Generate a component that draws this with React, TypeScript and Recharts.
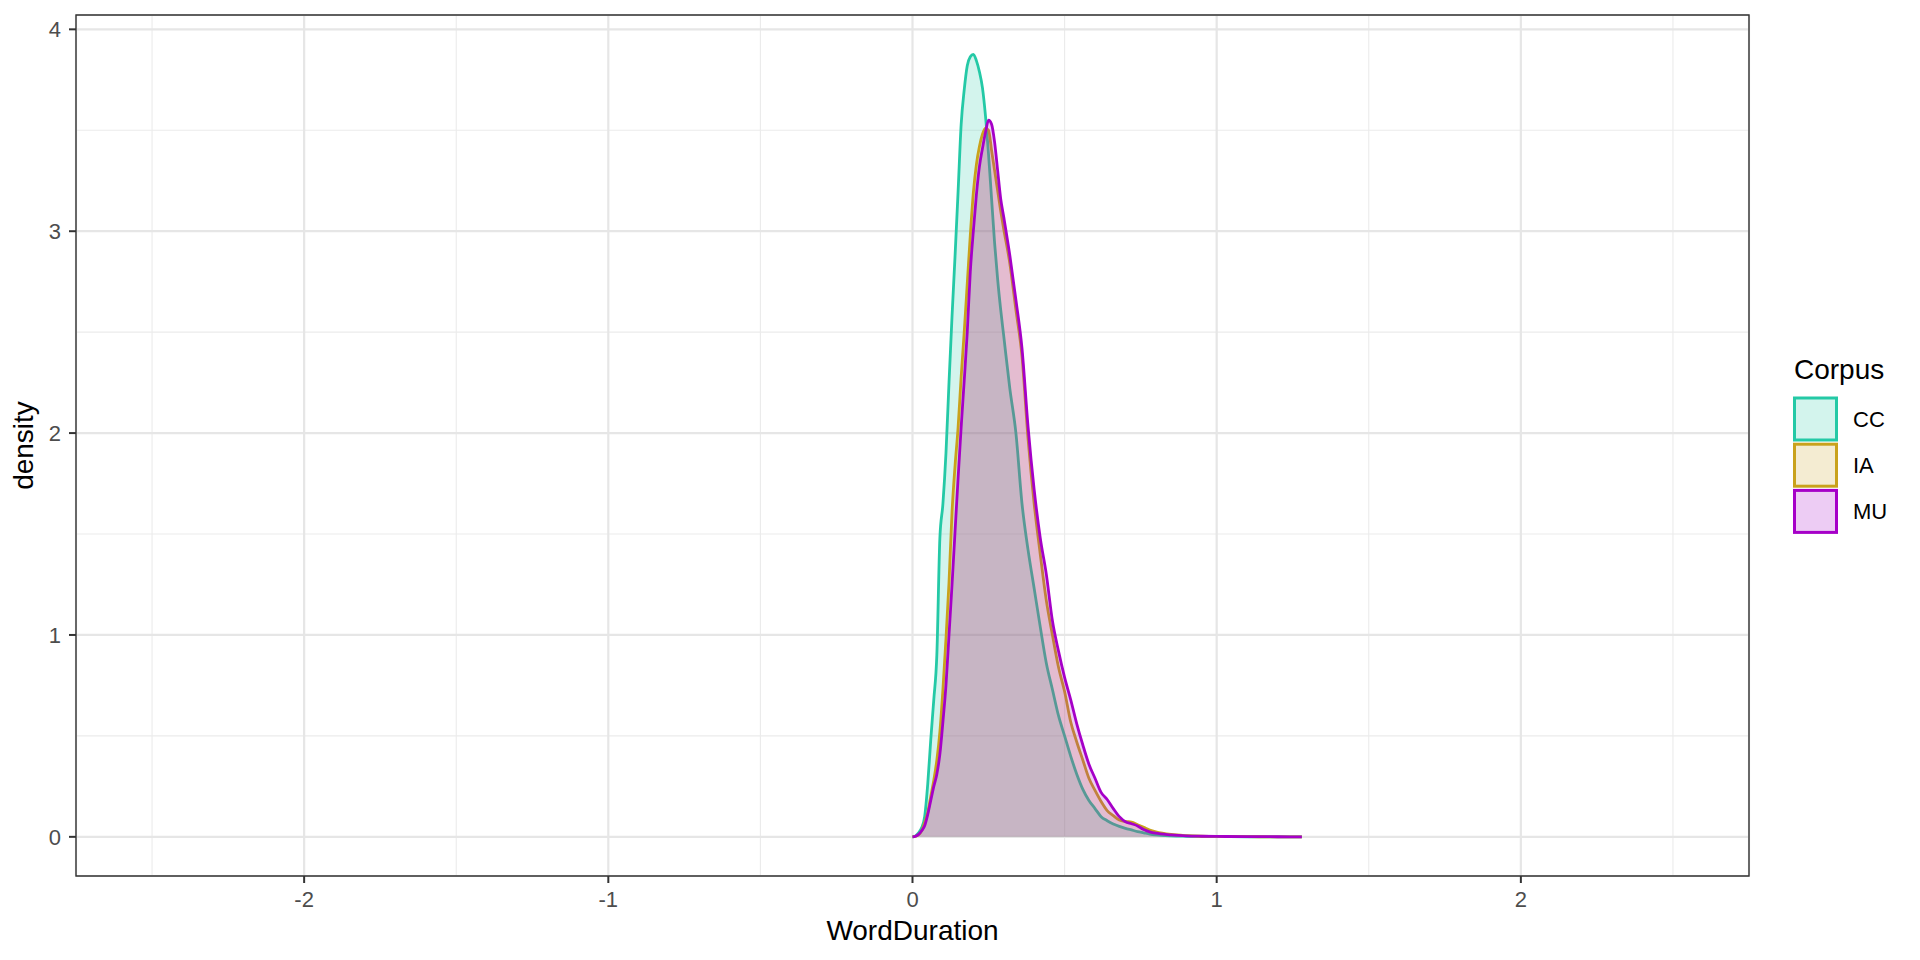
import React from 'react';
import {
  ComposedChart,
  Area,
  XAxis,
  YAxis,
  CartesianGrid,
  ReferenceArea,
  Legend,
} from 'recharts';

// ---- data ----
const wordDuration = [
  0, 0.01, 0.02, 0.03, 0.04, 0.05, 0.06, 0.07, 0.08, 0.09, 0.1, 0.11, 0.12, 0.13, 0.14, 0.15, 0.16,
  0.17, 0.18, 0.19, 0.2, 0.21, 0.22, 0.23, 0.24, 0.25, 0.26, 0.27, 0.28, 0.29, 0.3, 0.32, 0.34, 0.36,
  0.38, 0.4, 0.42, 0.44, 0.46, 0.48, 0.5, 0.52, 0.54, 0.56, 0.58, 0.6, 0.62, 0.64, 0.66, 0.68, 0.7,
  0.72, 0.74, 0.76, 0.78, 0.8, 0.85, 0.9, 0.95, 1.0, 1.1, 1.2, 1.28,
];

const densityCC = [
  0, 0.005, 0.02, 0.045, 0.1, 0.26, 0.48, 0.68, 0.9, 1.48, 1.65, 1.9, 2.25, 2.58, 2.88, 3.2, 3.53,
  3.7, 3.82, 3.864, 3.876, 3.845, 3.79, 3.71, 3.57, 3.38, 3.16, 2.94, 2.76, 2.61, 2.48, 2.22, 2.0, 1.65,
  1.42, 1.23, 1.04, 0.86, 0.73, 0.6, 0.5, 0.4, 0.31, 0.235, 0.18, 0.14, 0.1, 0.08, 0.064, 0.052, 0.042,
  0.034, 0.026, 0.02, 0.014, 0.01, 0.005, 0.003, 0.002, 0.001, 0.0005, 0, 0,
];

const densityIA = [
  0, 0.003, 0.01, 0.03, 0.07, 0.12, 0.2, 0.28, 0.38, 0.52, 0.73, 0.98, 1.26, 1.61, 1.84, 2.03, 2.28,
  2.5, 2.74, 2.98, 3.19, 3.33, 3.42, 3.48, 3.51, 3.5, 3.4, 3.3, 3.2, 3.1, 3.01, 2.84, 2.61, 2.38,
  1.97, 1.65, 1.4, 1.17, 1.0, 0.84, 0.72, 0.57, 0.47, 0.38, 0.29, 0.23, 0.175, 0.13, 0.105, 0.083, 0.076,
  0.073, 0.06, 0.047, 0.034, 0.025, 0.012, 0.006, 0.003, 0.002, 0.001, 0, 0,
];

const densityMU = [
  0, 0.003, 0.012, 0.03, 0.055, 0.11, 0.18, 0.25, 0.31, 0.41, 0.57, 0.75, 1.0, 1.25, 1.516, 1.78, 2.03,
  2.26, 2.5, 2.8, 3.0, 3.18, 3.32, 3.41, 3.49, 3.55, 3.53, 3.44, 3.3, 3.16, 3.07, 2.88, 2.66, 2.42,
  2.03, 1.72, 1.48, 1.3, 1.07, 0.92, 0.79, 0.68, 0.56, 0.455, 0.36, 0.29, 0.22, 0.185, 0.14, 0.1, 0.075,
  0.065, 0.054, 0.036, 0.025, 0.018, 0.01, 0.005, 0.003, 0.002, 0.001, 0.0005, 0,
];

const corpusNames = ['CC', 'IA', 'MU'];
const corpusColors = ['#24C9A6', '#C9A21C', '#A600C8'];

const xTicks = [-2, -1, 0, 1, 2];
const xMinorTicks = [-2.5, -1.5, -0.5, 0.5, 1.5, 2.5];
const yTicks = [0, 1, 2, 3, 4];
const yMinorTicks = [0.5, 1.5, 2.5, 3.5];
const xDomain: [number, number] = [-2.75, 2.75];
const yDomain: [number, number] = [-0.194, 4.071];

const data = wordDuration.map((x, i) => ({
  x,
  CC: densityCC[i],
  IA: densityIA[i],
  MU: densityMU[i],
}));

const FONT = '"Liberation Sans", Arial, Helvetica, sans-serif';

const LegendBox = () => (
  <svg width={140} height={200} style={{ display: 'block', fontFamily: FONT }}>
    <text x={15} y={30} fontSize={28} fill="#000000">
      Corpus
    </text>
    {corpusNames.map((name, i) => (
      <g key={name}>
        <rect
          x={15.5}
          y={49 + i * 46.2}
          width={42}
          height={42}
          fill={corpusColors[i]}
          fillOpacity={0.2}
          stroke={corpusColors[i]}
          strokeWidth={3}
        />
        <text x={74} y={70 + i * 46.2} dy="0.355em" fontSize={22} fill="#000000">
          {name}
        </text>
      </g>
    ))}
  </svg>
);

export default function App() {
  return (
    <div style={{ position: 'absolute', left: 0, top: 0, width: 1920, height: 960, background: '#ffffff', fontFamily: FONT }}>
      <ComposedChart
        width={1920}
        height={960}
        data={data}
        margin={{ top: 15, right: 171, bottom: 0, left: 0 }}
        style={{ fontFamily: FONT }}
      >
        <XAxis
          xAxisId="minor"
          type="number"
          dataKey="x"
          domain={xDomain}
          ticks={xMinorTicks}
          allowDataOverflow
          hide
        />
        <YAxis yAxisId="minor" type="number" domain={yDomain} ticks={yMinorTicks} allowDataOverflow hide />
        <CartesianGrid xAxisId="minor" yAxisId="minor" stroke="#EBEBEB" strokeWidth={1.1} />
        <CartesianGrid stroke="#E6E6E6" strokeWidth={2.2} />
        <XAxis
          type="number"
          dataKey="x"
          domain={xDomain}
          ticks={xTicks}
          allowDataOverflow
          height={84}
          tickSize={7}
          tickMargin={8}
          axisLine={false}
          tickLine={{ stroke: '#333333', strokeWidth: 2 }}
          tick={{ fill: '#4D4D4D', fontSize: 22, fontFamily: FONT }}
          label={{
            value: 'WordDuration',
            position: 'insideBottom',
            offset: 20,
            style: { fill: '#000000', fontSize: 28, fontFamily: FONT },
          }}
        />
        <YAxis
          type="number"
          domain={yDomain}
          ticks={yTicks}
          allowDataOverflow
          width={76}
          tickSize={7}
          tickMargin={8}
          axisLine={false}
          tickLine={{ stroke: '#333333', strokeWidth: 2 }}
          tick={{ fill: '#4D4D4D', fontSize: 22, fontFamily: FONT }}
          label={{
            value: 'density',
            angle: -90,
            position: 'insideLeft',
            offset: 23,
            style: { fill: '#000000', fontSize: 28, fontFamily: FONT, textAnchor: 'middle' },
          }}
        />
        {corpusNames.map((name, i) => (
          <Area
            key={name}
            type="monotone"
            dataKey={name}
            name={name}
            stroke={corpusColors[i]}
            strokeWidth={2.8}
            fill={corpusColors[i]}
            fillOpacity={0.2}
            dot={false}
            activeDot={false}
            isAnimationActive={false}
          />
        ))}
        <ReferenceArea
          x1={xDomain[0]}
          x2={xDomain[1]}
          y1={yDomain[0]}
          y2={yDomain[1]}
          fill="none"
          fillOpacity={0}
          stroke="#333333"
          strokeWidth={1.4}
          ifOverflow="visible"
        />
        <Legend
          layout="horizontal"
          align="center"
          verticalAlign="middle"
          content={() => <LegendBox />}
          wrapperStyle={{ position: 'absolute', left: 1779, top: 349, width: 140, height: 200 }}
        />
      </ComposedChart>
    </div>
  );
}
